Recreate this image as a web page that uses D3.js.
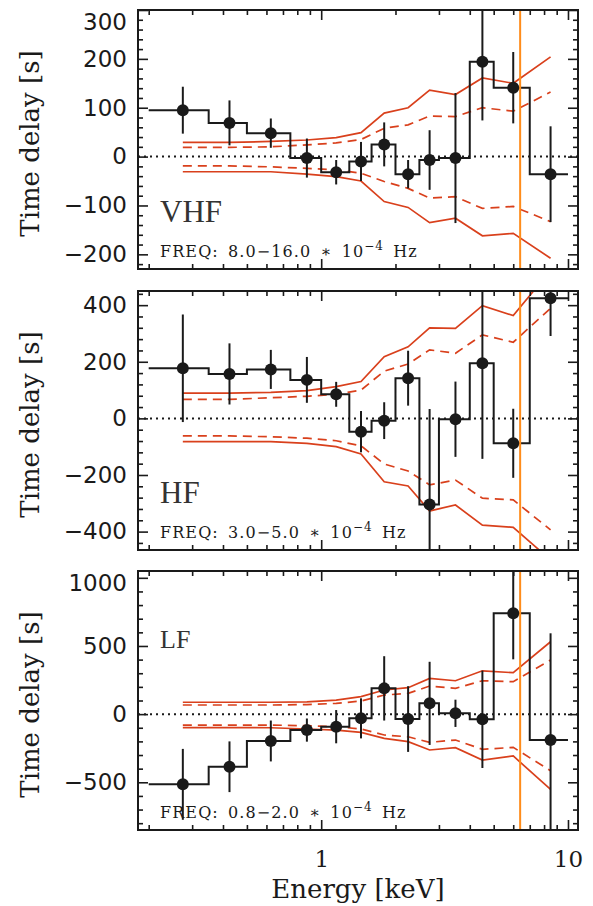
<!DOCTYPE html>
<html>
<head>
<meta charset="utf-8">
<script src="https://cdn.jsdelivr.net/npm/d3@7"></script>
<style>
  body { margin: 0; background: #fff; }
</style>
</head>
<body>
<div id="chart"></div>
<script>
// energy bins (keV): bin edges and the centre of each bin
var binEdges = [0.2, 0.35, 0.5, 0.75, 1.0, 1.3, 1.6, 2.0, 2.5, 3.0, 4.0, 5.0, 7.0, 10.0];
var energy = [0.275, 0.425, 0.625, 0.875, 1.15, 1.45, 1.8, 2.25, 2.75, 3.5, 4.5, 6.0, 8.5];
var ironLine = 6.4;

// VHF  8.0-16.0 e-4 Hz
var vhfDelay = [95, 69, 48, -3, -32, -10, 25, -36, -7, -3, 194, 141, -36];
var vhfErr = [48, 46, 30, 40, 25, 40, 45, 29, 61, 133, 120, 73, 98];
var vhfOuterHi = [29, 29, 31, 34, 39, 49, 89, 100, 136, 127, 161, 150, 204];
var vhfInnerHi = [19, 19, 20, 24, 28, 35, 58, 65, 83, 82, 100, 93, 132];
var vhfInnerLo = [-19, -19, -21, -24, -27, -34, -51, -65, -85, -82, -106, -102, -133];
var vhfOuterLo = [-31, -31, -31, -36, -41, -50, -92, -104, -135, -126, -162, -157, -208];

// HF  3.0-5.0 e-4 Hz
var hfDelay = [177, 157, 173, 136, 85, -47, -8, 142, -304, -3, 195, -88, 424];
var hfErr = [190, 108, 69, 81, 44, 73, 65, 97, 337, 133, 338, 122, 133];
var hfOuterHi = [89, 89, 92, 98, 112, 130, 218, 253, 320, 318, 398, 363, 523];
var hfInnerHi = [67, 67, 73, 78, 85, 100, 167, 192, 242, 230, 295, 269, 389];
var hfInnerLo = [-62, -62, -65, -70, -79, -97, -161, -186, -235, -218, -282, -288, -394];
var hfOuterLo = [-82, -82, -82, -88, -100, -126, -224, -239, -327, -306, -377, -385, -500];

// LF  0.8-2.0 e-4 Hz
var lfDelay = [-515, -386, -197, -117, -92, -31, 189, -36, 79, 6, -38, 740, -190];
var lfErr = [260, 186, 150, 85, 122, 147, 236, 241, 305, 100, 357, 338, 783];
var lfOuterHi = [87, 87, 87, 90, 103, 128, 177, 194, 262, 245, 318, 304, 531];
var lfInnerHi = [67, 67, 67, 70, 79, 96, 140, 152, 206, 189, 245, 238, 397];
var lfInnerLo = [-80, -80, -80, -85, -92, -109, -153, -166, -207, -190, -258, -244, -415];
var lfOuterLo = [-99, -99, -100, -109, -117, -134, -178, -202, -263, -246, -337, -307, -552];

var xTicks = [1, 10];
var xMinor = [0.2, 0.3, 0.4, 0.5, 0.6, 0.7, 0.8, 0.9, 2, 3, 4, 5, 6, 7, 8, 9];

var panels = [
  { name: "VHF", freq: ["8.0", "16.0"], top: 10, domain: [-230, 300], step: 100, minor: 20, nameY: 212, nameSize: 31,
    delay: vhfDelay, err: vhfErr, outer: [vhfOuterHi, vhfOuterLo], inner: [vhfInnerHi, vhfInnerLo] },
  { name: "HF", freq: ["3.0", "5.0"], top: 291, domain: [-465, 450], step: 200, minor: 40, nameY: 212, nameSize: 31,
    delay: hfDelay, err: hfErr, outer: [hfOuterHi, hfOuterLo], inner: [hfInnerHi, hfInnerLo] },
  { name: "LF", freq: ["0.8", "2.0"], top: 571, domain: [-850, 1050], step: 500, minor: 100, nameY: 77, nameSize: 26,
    delay: lfDelay, err: lfErr, outer: [lfOuterHi, lfOuterLo], inner: [lfInnerHi, lfInnerLo] }
];

var width = 593, height = 906;
var left = 138, right = 578, panelH = 259;
var red = "#d9401c", orange = "#ff8c1a", ink = "#1a1a1a";

// plain integers with a real minus sign, no thousands separator
var yFormat = function (d) { return d < 0 ? "\u2212" + Math.abs(d) : String(d); };

var svg = d3.select("#chart")
            .append("svg")
            .attr("width", width)
            .attr("height", height);

svg.append("rect")
   .attr("width", width)
   .attr("height", height)
   .attr("fill", "#ffffff");

var x = d3.scaleLog()
          .domain([0.181, 10.98])
          .range([left, right]);

panels.forEach(function (p, k) {
  var bottom = p.top + panelH;
  var y = d3.scaleLinear()
            .domain(p.domain)
            .range([bottom, p.top]);

  var clipId = "clip" + k;
  svg.append("clipPath")
     .attr("id", clipId)
     .append("rect")
     .attr("x", left)
     .attr("y", p.top)
     .attr("width", right - left)
     .attr("height", panelH);

  var g = svg.append("g").attr("clip-path", "url(#" + clipId + ")");

  // confidence contours
  var band = d3.line()
               .x(function (d, i) { return x(energy[i]); })
               .y(function (d) { return y(d); });

  p.outer.forEach(function (s) {
    g.append("path")
     .attr("d", band(s))
     .attr("fill", "none")
     .attr("stroke", red)
     .attr("stroke-width", 1.7);
  });
  p.inner.forEach(function (s) {
    g.append("path")
     .attr("d", band(s))
     .attr("fill", "none")
     .attr("stroke", red)
     .attr("stroke-width", 1.7)
     .attr("stroke-dasharray", "9,6");
  });

  // zero line
  g.append("line")
   .attr("x1", left)
   .attr("x2", right)
   .attr("y1", y(0))
   .attr("y2", y(0))
   .attr("stroke", ink)
   .attr("stroke-width", 2)
   .attr("stroke-dasharray", "2,4");

  // histogram steps
  var steps = binEdges.map(function (e, i) {
    return [e, p.delay[Math.min(i, p.delay.length - 1)]];
  });
  var stepLine = d3.line()
                   .x(function (d) { return x(d[0]); })
                   .y(function (d) { return y(d[1]); })
                   .curve(d3.curveStepAfter);
  g.append("path")
   .attr("d", stepLine(steps))
   .attr("fill", "none")
   .attr("stroke", ink)
   .attr("stroke-width", 2);

  // error bars and points
  g.selectAll(".err")
   .data(p.delay)
   .enter()
   .append("line")
   .attr("x1", function (d, i) { return x(energy[i]); })
   .attr("x2", function (d, i) { return x(energy[i]); })
   .attr("y1", function (d, i) { return y(d + p.err[i]); })
   .attr("y2", function (d, i) { return y(d - p.err[i]); })
   .attr("stroke", ink)
   .attr("stroke-width", 2);

  g.selectAll(".pt")
   .data(p.delay)
   .enter()
   .append("circle")
   .attr("cx", function (d, i) { return x(energy[i]); })
   .attr("cy", function (d) { return y(d); })
   .attr("r", 6)
   .attr("fill", ink);

  // Fe K line
  g.append("line")
   .attr("x1", x(ironLine))
   .attr("x2", x(ironLine))
   .attr("y1", p.top)
   .attr("y2", bottom)
   .attr("stroke", orange)
   .attr("stroke-width", 2);

  // axes, ticks pointing inwards
  var majors = d3.range(Math.ceil(p.domain[0] / p.step) * p.step, p.domain[1] + 1, p.step);
  var minors = d3.range(Math.ceil(p.domain[0] / p.minor) * p.minor, p.domain[1] + 1, p.minor)
                 .filter(function (v) { return v % p.step !== 0; });

  var yl = svg.append("g")
              .attr("transform", "translate(" + left + ",0)")
              .call(d3.axisLeft(y).tickValues(majors).tickSize(-10).tickPadding(11).tickFormat(yFormat))
              .attr("font-family", "DejaVu Sans")
              .attr("font-size", 23);
  yl.selectAll("text")
    .attr("fill", ink)
    .attr("y", function (d) { return Math.max(0, p.top + 12 - y(d)); });

  svg.append("g")
     .attr("transform", "translate(" + left + ",0)")
     .call(d3.axisLeft(y).tickValues(minors).tickSize(-5).tickFormat(""));
  svg.append("g")
     .attr("transform", "translate(" + right + ",0)")
     .call(d3.axisRight(y).tickValues(majors).tickSize(-10).tickFormat(""));
  svg.append("g")
     .attr("transform", "translate(" + right + ",0)")
     .call(d3.axisRight(y).tickValues(minors).tickSize(-5).tickFormat(""));

  var xb = svg.append("g")
              .attr("transform", "translate(0," + bottom + ")")
              .call(d3.axisBottom(x).tickValues(xTicks).tickSize(-10).tickPadding(21)
                      .tickFormat(k === 2 ? d3.format("d") : ""))
              .attr("font-family", "DejaVu Serif")
              .attr("font-size", 23);
  xb.selectAll("text").attr("fill", ink);
  svg.append("g")
     .attr("transform", "translate(0," + bottom + ")")
     .call(d3.axisBottom(x).tickValues(xMinor).tickSize(-5).tickFormat(""));
  svg.append("g")
     .attr("transform", "translate(0," + p.top + ")")
     .call(d3.axisTop(x).tickValues(xTicks).tickSize(-10).tickFormat(""));
  svg.append("g")
     .attr("transform", "translate(0," + p.top + ")")
     .call(d3.axisTop(x).tickValues(xMinor).tickSize(-5).tickFormat(""));

  svg.selectAll(".domain").remove();
  svg.selectAll(".tick line").attr("stroke", ink).attr("stroke-width", 1.6);

  svg.append("rect")
     .attr("x", left)
     .attr("y", p.top)
     .attr("width", right - left)
     .attr("height", panelH)
     .attr("fill", "none")
     .attr("stroke", ink)
     .attr("stroke-width", 2);

  // labels
  svg.append("text")
     .attr("transform", "translate(39," + (p.top + panelH / 2 + 4) + ") rotate(-90)")
     .attr("text-anchor", "middle")
     .attr("font-family", "DejaVu Serif")
     .attr("font-size", 26)
     .attr("fill", ink)
     .text("Time delay [s]");

  svg.append("text")
     .attr("x", 160)
     .attr("y", p.top + p.nameY)
     .attr("font-family", "Liberation Serif")
     .attr("font-size", p.nameSize)
     .attr("fill", "#333")
     .text(p.name);

  var f = svg.append("text")
             .attr("x", 160)
             .attr("y", bottom - 12)
             .attr("font-family", "DejaVu Serif")
             .attr("font-size", 16)
             .attr("letter-spacing", 1.1)
             .attr("word-spacing", 3)
             .attr("fill", ink);
  f.append("tspan").text("FREQ: " + p.freq[0] + "\u2212" + p.freq[1] + " \u2217 10");
  f.append("tspan").attr("dy", -7).attr("font-size", 12).text("\u22124");
  f.append("tspan").attr("dy", 7).text(" Hz");
});

svg.append("text")
   .attr("x", (left + right) / 2)
   .attr("y", 898)
   .attr("text-anchor", "middle")
   .attr("font-family", "DejaVu Serif")
   .attr("font-size", 26)
   .attr("fill", ink)
   .text("Energy [keV]");
</script>
</body>
</html>
